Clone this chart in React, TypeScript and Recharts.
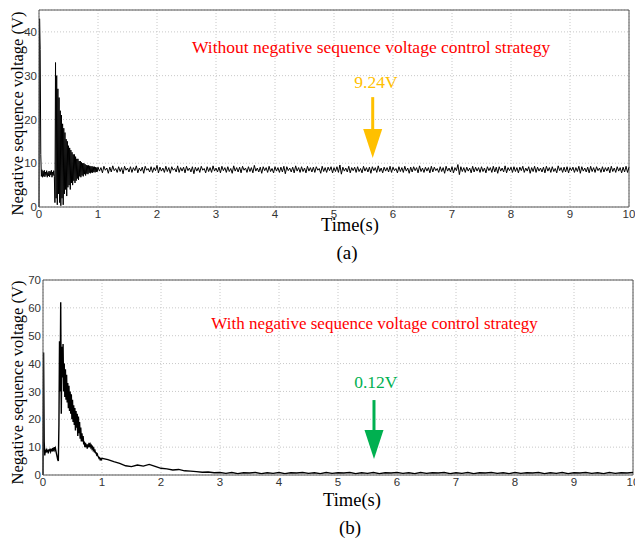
import React from "react";
import {
  LineChart,
  Line,
  XAxis,
  YAxis,
  CartesianGrid,
  ReferenceLine,
  ReferenceDot,
  Label,
} from "recharts";

const xTicks = [0, 1, 2, 3, 4, 5, 6, 7, 8, 9, 10];
const topYTicks = [0, 10, 20, 30, 40];
const bottomYTicks = [0, 10, 20, 30, 40, 50, 60, 70];

// (a) without control: 0–1 s sampled every 0.01 s
const topHead = [
  0, 43, 36, 12, 7, 8.5, 6.8, 8.2, 7.0, 8.4,
  6.9, 8.0, 7.2, 8.3, 6.8, 7.9, 7.1, 8.2, 6.9, 8.1,
  7.3, 8.4, 6.8, 8.0, 7.2, 8.3, 7.0, 1.0, 33, 2,
  30, 0.5, 27, 3, 25, 1, 22, 0.3, 21, 2,
  19, 0.5, 18, 3, 17, 4, 15.5, 2.5, 15, 4.5,
  14, 5, 13.5, 4, 13, 5.5, 12.5, 5, 12, 6,
  12, 5.5, 11.5, 6, 11, 6.5, 11, 6.2, 10.5, 7,
  10.5, 6.8, 10.2, 7.2, 10, 7, 10, 7.5, 9.8, 7.2,
  9.6, 7.6, 9.5, 7.5, 9.5, 7.8, 9.4, 7.7, 9.3, 7.9,
  9.3, 7.8, 9.2, 8.0, 9.2, 7.9, 9.1, 8.0, 9.0, 8.1,
  9.1,
];
// (a) steady state: 1.025–10 s sampled every 0.025 s
const topTail = [
  8.2, 9.0, 7.8, 9.3, 8.4, 8.9, 7.7, 9.1, 8.0, 9.4, 8.3, 8.8, 7.9, 9.2, 8.1, 9.0, 7.6, 9.3, 8.4, 8.9,
  8.0, 9.2, 7.9, 9.0, 8.3, 9.4, 7.8, 8.9, 8.2, 9.1, 7.7, 9.3, 8.4, 8.8, 8.0, 9.2, 7.9, 9.0, 8.3, 9.5,
  7.8, 9.1, 8.2, 8.9, 7.9, 9.3, 8.1, 9.0, 7.7, 9.2, 8.4, 8.8, 8.0, 9.4, 7.9, 9.0, 8.2, 9.1, 7.8, 9.3,
  8.3, 8.9, 8.0, 9.2, 7.6, 9.1, 8.2, 9.0, 7.9, 9.3, 8.4, 8.8, 7.8, 9.2, 8.1, 9.0, 7.9, 9.4, 8.2, 8.9,
  8.0, 9.1, 7.8, 9.3, 8.3, 9.0, 7.9, 9.2, 8.1, 8.8, 7.7, 9.4, 8.2, 9.0, 8.0, 9.1, 7.8, 9.3, 8.4, 8.9,
  7.9, 9.2, 8.1, 9.0, 7.8, 9.5, 8.2, 8.9, 8.0, 9.1, 7.7, 9.2, 8.3, 9.0, 7.9, 9.3, 8.1, 8.8, 7.8, 9.2,
  8.2, 9.0, 7.9, 9.1, 8.0, 9.3, 7.6, 9.2, 8.3, 8.9, 8.0, 9.1, 7.8, 9.4, 8.2, 9.0, 7.9, 9.2, 8.1, 8.9,
  7.8, 9.3, 8.2, 9.0, 8.0, 9.1, 7.9, 9.2, 8.4, 8.8, 7.7, 9.3, 8.1, 9.0, 7.9, 9.1, 8.3, 9.2, 7.8, 9.0,
  8.1, 9.2, 7.9, 9.6, 7.5, 9.1, 8.2, 8.9, 8.0, 9.3, 7.8, 9.0, 8.3, 9.1, 7.9, 9.2, 8.1, 8.8, 7.8, 9.3,
  8.2, 9.0, 8.0, 9.1, 7.7, 9.2, 8.3, 9.0, 7.9, 9.4, 8.1, 8.9, 7.8, 9.1, 8.2, 9.0, 8.0, 9.3, 7.9, 9.1,
  8.3, 8.8, 7.8, 9.2, 8.1, 9.0, 7.9, 9.3, 8.2, 8.9, 7.7, 9.1, 8.0, 9.2, 8.3, 9.0, 7.8, 9.4, 8.1, 8.9,
  7.9, 9.1, 8.2, 9.0, 7.8, 9.3, 8.0, 9.1, 8.3, 8.8, 7.9, 9.2, 8.1, 9.0, 7.7, 9.3, 8.2, 8.9, 8.0, 9.2,
  7.8, 9.0, 8.3, 9.7, 7.4, 9.2, 8.1, 9.0, 7.9, 9.1, 8.2, 8.9, 7.8, 9.3, 8.0, 9.1, 8.2, 9.0, 7.9, 9.2,
  8.1, 8.9, 7.8, 9.2, 8.3, 9.0, 7.9, 9.3, 8.0, 9.1, 7.7, 9.2, 8.2, 8.9, 8.0, 9.4, 7.8, 9.0, 8.3, 9.1,
  7.9, 9.2, 8.1, 9.0, 7.8, 9.1, 8.3, 9.3, 7.9, 8.9, 8.2, 9.2, 7.7, 9.0, 8.1, 9.3, 7.9, 9.1, 8.2, 8.9,
  8.0, 9.1, 7.8, 9.3, 8.2, 9.0, 7.9, 9.2, 8.1, 8.8, 7.8, 9.4, 8.3, 9.0, 7.9, 9.1, 8.0, 9.2, 7.8, 9.0,
  8.3, 9.1, 7.9, 9.0, 8.1, 9.3, 7.7, 9.2, 8.2, 8.9, 8.0, 9.1, 7.8, 9.3, 8.1, 9.0, 7.9, 9.2, 8.3, 8.9,
  7.9, 9.2, 8.0, 9.0, 8.2, 9.1, 7.8, 9.3, 8.1, 8.9, 7.9, 9.2, 8.2, 9.0, 7.8, 9.1, 8.0, 9.3, 7.9, 9.1,
];

// (b) with control: 0–1 s sampled every 0.01 s
const bottomHead = [
  0, 44, 12, 7, 9, 8, 9.5, 8.2, 9, 7.8,
  9.2, 8.5, 9.5, 8.4, 9, 8.8, 9.6, 8.5, 9.3, 10,
  9, 9.6, 8.5, 7.5, 6.5, 5.5, 5, 18, 48, 30,
  62, 22, 46, 35, 47, 30, 40, 28, 38, 27,
  36, 26, 33, 24, 32, 23, 30, 22, 29, 20,
  27, 19, 25, 18, 24, 16, 23, 17, 22, 14,
  21, 15, 19, 13, 17, 12, 15, 12, 14, 11,
  12, 10, 11.5, 10, 11, 9.5, 11, 10, 11.5, 10.5,
  11, 10, 10.5, 9.5, 10, 9, 9.5, 8.5, 8.8, 8,
  8, 7.2, 7.5, 6.8, 6.5, 6, 6.2, 5.5, 5.8, 5.5,
  6,
];
// (b) tail: 1.1–10 s sampled every 0.1 s
const bottomTail = [
  5.5, 4.8, 4.2, 3.3, 3.0, 3.6, 3.2, 3.8, 3.1, 2.4,
  2.2, 1.8, 2.0, 1.5, 1.4, 1.2, 1.0, 1.1, 0.8, 0.9,
  0.6, 0.9, 0.5, 0.8, 0.7, 0.9, 0.5, 0.8, 0.6, 0.9,
  0.5, 0.8, 0.7, 0.9, 0.6, 0.8, 0.5, 0.9, 0.6, 0.8,
  0.7, 0.9, 0.5, 0.8, 0.6, 0.9, 0.5, 0.8, 0.7, 0.9,
  0.6, 0.8, 0.5, 0.9, 0.6, 0.8, 0.7, 0.9, 0.5, 0.8,
  0.6, 0.9, 0.5, 0.8, 0.7, 0.9, 0.6, 0.8, 0.5, 0.9,
  0.6, 0.8, 0.7, 0.9, 0.5, 0.8, 0.6, 0.9, 0.5, 0.8,
  0.7, 0.9, 0.6, 0.8, 0.5, 0.9, 0.6, 0.8, 0.7, 0.9,
];

const serif = '"Liberation Serif", "Times New Roman", serif';
const sans = '"Liberation Sans", Arial, sans-serif';

const toSeries = (head: number[], tail: number[], tailStart: number, tailStep: number) => [
  ...head.map((v, i) => ({ t: +(i * 0.01).toFixed(3), v })),
  ...tail.map((v, i) => ({ t: +(tailStart + i * tailStep).toFixed(3), v })),
];

const topData = toSeries(topHead, topTail, 1.025, 0.025);
const bottomData = toSeries(bottomHead, bottomTail, 1.1, 0.1);

const tickStyle = { fill: "#333", fontSize: 11.5, fontFamily: sans };

function yLabel(dy: number) {
  return (props: any) => {
    const vb = props.viewBox || { x: 0, y: 0, width: 0, height: 0 };
    const cx = 17;
    const cy = vb.y + vb.height / 2 + dy;
    return (
      <text
        x={cx}
        y={cy}
        transform={`rotate(-90 ${cx} ${cy})`}
        textAnchor="middle"
        dominantBaseline="central"
        fontFamily={serif}
        fontSize={16.5}
        fill="#000"
      >
        Negative sequence voltage (V)
      </text>
    );
  };
}

function xLabel(dx: number, dy: number) {
  return (props: any) => {
    const vb = props.viewBox || { x: 0, y: 0, width: 0, height: 0 };
    return (
      <text
        x={vb.x + vb.width / 2 + dx}
        y={vb.y + dy}
        textAnchor="middle"
        dominantBaseline="central"
        fontFamily={serif}
        fontSize={18.5}
        fill="#000"
      >
        Time(s)
      </text>
    );
  };
}

const textShape = (text: string, color: string, size: number) => (p: any) => (
  <text
    x={p.cx}
    y={p.cy}
    textAnchor="middle"
    dominantBaseline="central"
    fontFamily={serif}
    fontSize={size}
    fill={color}
  >
    {text}
  </text>
);

const headShape = (color: string) => (p: any) => (
  <polygon
    points={`${p.cx - 9.5},${p.cy - 29} ${p.cx + 9.5},${p.cy - 29} ${p.cx},${p.cy}`}
    fill={color}
  />
);

export default function App() {
  return (
    <div
      style={{
        position: "absolute",
        left: 0,
        top: 0,
        width: 635,
        height: 541,
        background: "#fff",
      }}
    >
      <div style={{ position: "absolute", left: 0, top: 0 }}>
        <LineChart
          width={635}
          height={240}
          data={topData}
          margin={{ top: 10, right: 6, left: 0, bottom: 0 }}
        >
          <CartesianGrid stroke="#c8c8c8" strokeDasharray="1 2" />
          <XAxis
            dataKey="t"
            type="number"
            domain={[0, 10]}
            ticks={xTicks}
            interval={0}
            height={33}
            tickLine={false}
            tickSize={0}
            tickMargin={3}
            stroke="#555"
            tick={tickStyle}
          >
            <Label content={xLabel(16, 18)} />
          </XAxis>
          <YAxis
            type="number"
            domain={[0, 45]}
            ticks={topYTicks}
            interval={0}
            width={39}
            tickLine={false}
            tickSize={0}
            tickMargin={2}
            stroke="#555"
            tick={tickStyle}
          >
            <Label content={yLabel(5)} />
          </YAxis>
          <ReferenceLine y={45} stroke="#555" />
          <ReferenceLine x={10} stroke="#555" />
          <Line
            dataKey="v"
            type="linear"
            stroke="#000"
            strokeWidth={1}
            dot={false}
            isAnimationActive={false}
          />
          <ReferenceDot
            x={5.63}
            y={36.5}
            r={0}
            shape={textShape("Without negative sequence voltage control strategy", "#ff0000", 17.5)}
          />
          <ReferenceDot x={5.71} y={28.5} r={0} shape={textShape("9.24V", "#ffc000", 17.5)} />
          <ReferenceLine
            segment={[
              { x: 5.656, y: 25.1 },
              { x: 5.656, y: 17.2 },
            ]}
            stroke="#ffc000"
            strokeWidth={3}
          />
          <ReferenceDot x={5.656} y={11.2} r={0} shape={headShape("#ffc000")} />
        </LineChart>
      </div>

      <div style={{ position: "absolute", left: 0, top: 270 }}>
        <LineChart
          width={635}
          height={250}
          data={bottomData}
          margin={{ top: 10, right: 2, left: 0, bottom: 12 }}
        >
          <CartesianGrid stroke="#c8c8c8" strokeDasharray="1 2" />
          <XAxis
            dataKey="t"
            type="number"
            domain={[0, 10]}
            ticks={xTicks}
            interval={0}
            height={33}
            tickLine={false}
            tickSize={0}
            tickMargin={3}
            stroke="#555"
            tick={tickStyle}
          >
            <Label content={xLabel(14, 25)} />
          </XAxis>
          <YAxis
            type="number"
            domain={[0, 70]}
            ticks={bottomYTicks}
            interval={0}
            width={43}
            tickLine={false}
            tickSize={0}
            tickMargin={2}
            stroke="#555"
            tick={tickStyle}
          >
            <Label content={yLabel(5)} />
          </YAxis>
          <ReferenceLine y={70} stroke="#555" />
          <ReferenceLine x={10} stroke="#555" />
          <Line
            dataKey="v"
            type="linear"
            stroke="#000"
            strokeWidth={1.4}
            dot={false}
            isAnimationActive={false}
          />
          <ReferenceDot
            x={5.62}
            y={54.5}
            r={0}
            shape={textShape("With negative sequence voltage control strategy", "#ff0000", 17)}
          />
          <ReferenceDot x={5.64} y={33.4} r={0} shape={textShape("0.12V", "#00b050", 17.5)} />
          <ReferenceLine
            segment={[
              { x: 5.61, y: 26.9 },
              { x: 5.61, y: 14.8 },
            ]}
            stroke="#00b050"
            strokeWidth={3}
          />
          <ReferenceDot x={5.61} y={5.7} r={0} shape={headShape("#00b050")} />
        </LineChart>
      </div>

      <div
        style={{
          position: "absolute",
          left: 297,
          top: 241,
          width: 100,
          textAlign: "center",
          fontFamily: serif,
          fontSize: 19,
          lineHeight: "24px",
        }}
      >
        (a)
      </div>
      <div
        style={{
          position: "absolute",
          left: 300,
          top: 516,
          width: 100,
          textAlign: "center",
          fontFamily: serif,
          fontSize: 19,
          lineHeight: "24px",
        }}
      >
        (b)
      </div>
    </div>
  );
}
